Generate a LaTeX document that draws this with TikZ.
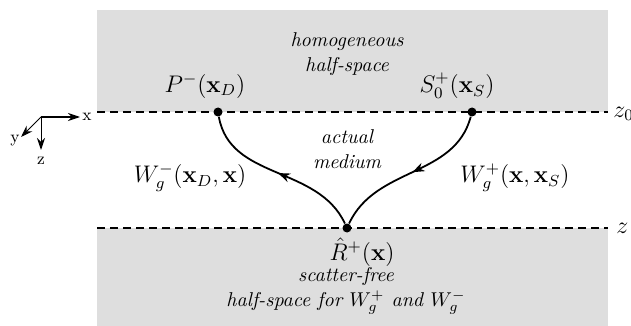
\documentclass[tikz,border=0pt]{standalone}
\usetikzlibrary{arrows.meta,decorations.markings}
\begin{document}
\begin{tikzpicture}[x=0.5pt,y=-0.5pt,
  halfspace/.style={fill=black!13,draw=none},
  iface/.style={dashed,line width=0.8pt,dash pattern=on 4pt off 2.5pt},
  dotnode/.style={circle,fill=black,inner sep=0pt,minimum size=4.5pt},
  wave/.style={line width=0.9pt,postaction={decorate},decoration={markings,
    mark=at position 0.5 with {\arrow{Stealth[length=6pt,width=4.5pt]}}}},
  lbl/.style={font=\fontsize{12}{13}\selectfont,inner sep=1pt},
  ital/.style={font=\fontsize{10}{12.5}\selectfont\itshape,align=center,inner sep=1pt},
  axis/.style={line width=0.5pt,-{Stealth[length=6pt,width=4pt]}},
  axlbl/.style={font=\fontsize{8.5}{9}\selectfont\rmfamily,inner sep=1pt}]
\useasboundingbox (0,0) rectangle (631,326);
\fill[halfspace] (97,10) rectangle (608,112);
\fill[halfspace] (97,228) rectangle (608,326);
\coordinate (l0) at (97,112); \coordinate (r0) at (608,112);
\coordinate (l1) at (97,228); \coordinate (r1) at (608,228);
\draw[iface] (l0) -- (r0);
\draw[iface] (l1) -- (r1);
\node[lbl,anchor=west,inner sep=0pt] (z0) at (613,114) {$z_0$};
\node[lbl,anchor=west,inner sep=0pt] (z) at (616,228) {$z$};
\node[dotnode] (P) at (218,112) {};
\node[dotnode] (S) at (472,112) {};
\node[dotnode] (R) at (347,228) {};
\draw[wave] (S) to[out=-105,in=65] (R);
\draw[wave] (R) to[out=115,in=-80] (P);
\node[lbl] (Pl) at (205,86) {$P^{-}(\mathbf{x}_D)$};
\node[lbl] (Sl) at (457,86) {$S_0^{+}(\mathbf{x}_S)$};
\node[lbl] (Rl) at (362,252) {$\hat{R}^{+}(\mathbf{x})$};
\node[lbl] (Wm) at (190,178) {$W_g^{-}(\mathbf{x}_D,\mathbf{x})$};
\node[lbl] (Wp) at (515,178) {$W_g^{+}(\mathbf{x},\mathbf{x}_S)$};
\node[ital] (hom) at (347,54) {homogeneous\\half-space};
\node[ital] (act) at (347,149) {actual\\medium};
\node[ital] (sf) at (346,291) {scatter-free\\half-space for $W_g^{+}$ and $W_g^{-}$};
\coordinate (o) at (41,117);
\coordinate (ax) at (80,117);
\coordinate (ay) at (21,137);
\coordinate (az) at (41,150);
\draw[axis] (o) -- (ax);
\draw[axis] (o) -- (ay);
\draw[axis] (o) -- (az);
\node[axlbl,anchor=west] (xl) at (ax) {x};
\node[axlbl,anchor=east] (yl) at (22,141) {y};
\node[axlbl,anchor=north] (zl) at (41,155) {z};
\end{tikzpicture}
\end{document}
